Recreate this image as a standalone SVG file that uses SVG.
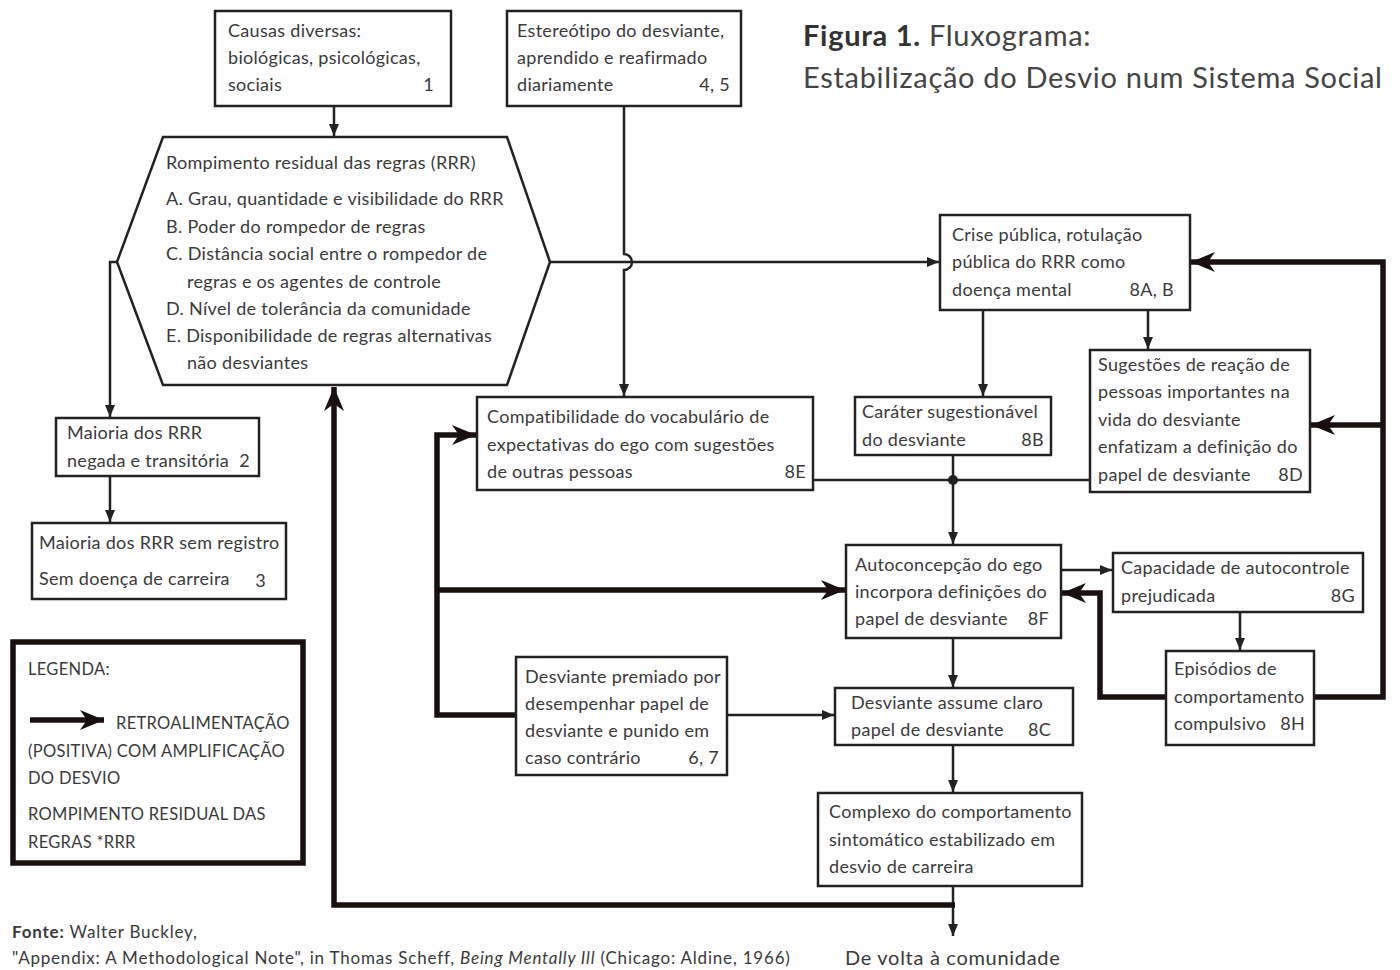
<svg xmlns="http://www.w3.org/2000/svg" width="1400" height="970" viewBox="0 0 1400 970">
<style>
text{font-family:Lato,"Noto Sans","Liberation Sans",sans-serif;font-size:18px;letter-spacing:0.3px;fill:#3a3a3a}
.box{fill:#fff;stroke:#222;stroke-width:2.5}
.thin{fill:none;stroke:#222;stroke-width:2.5}
.thick{fill:none;stroke:#1a1010;stroke-width:5.5}
.num{text-anchor:end}
.leg{font-size:16.5px;letter-spacing:0.3px}
.title{font-size:29px;letter-spacing:0.7px;fill:#444}
.foot{font-size:17px;letter-spacing:0.8px}
.out{font-size:20px;letter-spacing:0.7px}
</style>
<defs>
<marker id="a" markerUnits="userSpaceOnUse" markerWidth="14" markerHeight="12" refX="12" refY="5" orient="auto">
<path d="M0,0 L12,5 L0,10 z" fill="#222"/>
</marker>
<marker id="A" markerUnits="userSpaceOnUse" markerWidth="26" markerHeight="22" refX="24" refY="10" orient="auto">
<path d="M0,0 L24,10 L0,20 L7,10 z" fill="#1a1010"/>
</marker>
</defs>
<rect width="1400" height="970" fill="#fff"/>

<g id="connectors">
<path class="thin" d="M334,106 V136" marker-end="url(#a)"/>
<path class="thin" d="M117,262 H110 V417" marker-end="url(#a)"/>
<path class="thin" d="M110,476 V522" marker-end="url(#a)"/>
<path class="thin" d="M550,262 H939" marker-end="url(#a)"/>
<path class="thin" d="M624,106 V254 a8,8 0 0 1 0,16 V396" marker-end="url(#a)"/>
<path class="thin" d="M983,310 V396" marker-end="url(#a)"/>
<path class="thin" d="M1148,310 V349" marker-end="url(#a)"/>
<path class="thin" d="M813,480 H1090"/>
<circle cx="953" cy="480" r="5" fill="#222"/>
<path class="thin" d="M953,455 V544" marker-end="url(#a)"/>
<path class="thin" d="M1061,570 H1112" marker-end="url(#a)"/>
<path class="thin" d="M1240,612 V650" marker-end="url(#a)"/>
<path class="thin" d="M953,638 V687" marker-end="url(#a)"/>
<path class="thin" d="M727,715 H834" marker-end="url(#a)"/>
<path class="thin" d="M953,745 V792" marker-end="url(#a)"/>
<path class="thin" d="M953,886 V936" marker-end="url(#a)"/>
<path class="thick" d="M955,905 H334 V387" marker-end="url(#A)"/>
<path class="thick" d="M516,715 H437 V435 H476" marker-end="url(#A)"/>
<path class="thick" d="M437,590 H845" marker-end="url(#A)"/>
<path class="thick" d="M1166,697 H1100 V593 H1062" marker-end="url(#A)"/>
<path class="thick" d="M1314,697 H1383 V262 H1191" marker-end="url(#A)"/>
<path class="thick" d="M1383,425 H1311" marker-end="url(#A)"/>
</g>

<g id="n1">
<rect class="box" x="215" y="11" width="236" height="95"/>
<text x="228" y="37">Causas diversas:</text>
<text x="228" y="64">biológicas, psicológicas,</text>
<text x="228" y="91">sociais</text>
<text class="num" x="434" y="91">1</text>
</g>

<g id="n2">
<rect class="box" x="507" y="11" width="234" height="95"/>
<text x="517" y="37">Estereótipo do desviante,</text>
<text x="517" y="64">aprendido e reafirmado</text>
<text x="517" y="91">diariamente</text>
<text class="num" x="730" y="91">4, 5</text>
</g>

<g id="title">
<text class="title" x="803" y="46"><tspan font-weight="bold" fill="#333">Figura 1.</tspan> Fluxograma:</text>
<text class="title" x="803" y="88">Estabilização do Desvio num Sistema Social</text>
</g>

<g id="hex">
<polygon class="box" points="163,137 507,137 550,262 507,385 163,385 117,262"/>
<text x="166" y="169">Rompimento residual das regras (RRR)</text>
<text x="166" y="205">A. Grau, quantidade e visibilidade do RRR</text>
<text x="166" y="233">B. Poder do rompedor de regras</text>
<text x="166" y="260">C. Distância social entre o rompedor de</text>
<text x="187" y="288">regras e os agentes de controle</text>
<text x="166" y="315">D. Nível de tolerância da comunidade</text>
<text x="166" y="342">E. Disponibilidade de regras alternativas</text>
<text x="187" y="369">não desviantes</text>
</g>

<g id="n2a">
<rect class="box" x="56" y="418" width="203" height="58"/>
<text x="67" y="439">Maioria dos RRR</text>
<text x="67" y="467">negada e transitória</text>
<text class="num" x="250" y="467">2</text>
</g>

<g id="n3">
<rect class="box" x="32" y="523" width="254" height="76"/>
<text x="39" y="549">Maioria dos RRR sem registro</text>
<text x="39" y="585">Sem doença de carreira</text>
<text class="num" x="266" y="587">3</text>
</g>

<g id="legend">
<rect x="13" y="642" width="290" height="221" fill="#fff" stroke="#1a1010" stroke-width="5.5"/>
<text class="leg" x="28" y="675">LEGENDA:</text>
<path class="thick" d="M30,720 H104" marker-end="url(#A)"/>
<text class="leg" x="116" y="729">RETROALIMENTAÇÃO</text>
<text class="leg" x="28" y="757">(POSITIVA) COM AMPLIFICAÇÃO</text>
<text class="leg" x="28" y="784">DO DESVIO</text>
<text class="leg" x="28" y="820">ROMPIMENTO RESIDUAL DAS</text>
<text class="leg" x="28" y="848">REGRAS *RRR</text>
</g>

<g id="n8E">
<rect class="box" x="477" y="397" width="336" height="93"/>
<text x="487" y="423">Compatibilidade do vocabulário de</text>
<text x="487" y="451">expectativas do ego com sugestões</text>
<text x="487" y="478">de outras pessoas</text>
<text class="num" x="806" y="478">8E</text>
</g>

<g id="n8A">
<rect class="box" x="940" y="215" width="250" height="95"/>
<text x="952" y="241">Crise pública, rotulação</text>
<text x="952" y="268">pública do RRR como</text>
<text x="952" y="296">doença mental</text>
<text class="num" x="1174" y="296">8A, B</text>
</g>

<g id="n8B">
<rect class="box" x="855" y="397" width="196" height="58"/>
<text x="862" y="418">Caráter sugestionável</text>
<text x="862" y="446">do desviante</text>
<text class="num" x="1044" y="446">8B</text>
</g>

<g id="n8D">
<rect class="box" x="1090" y="350" width="220" height="142"/>
<text x="1098" y="371">Sugestões de reação de</text>
<text x="1098" y="398">pessoas importantes na</text>
<text x="1098" y="426">vida do desviante</text>
<text x="1098" y="453">enfatizam a definição do</text>
<text x="1098" y="481">papel de desviante</text>
<text class="num" x="1303" y="481">8D</text>
</g>

<g id="n8F">
<rect class="box" x="846" y="545" width="215" height="93"/>
<text x="855" y="571">Autoconcepção do ego</text>
<text x="855" y="598">incorpora definições do</text>
<text x="855" y="625">papel de desviante</text>
<text class="num" x="1049" y="625">8F</text>
</g>

<g id="n8G">
<rect class="box" x="1113" y="553" width="250" height="59"/>
<text x="1121" y="574">Capacidade de autocontrole</text>
<text x="1121" y="602">prejudicada</text>
<text class="num" x="1355" y="602">8G</text>
</g>

<g id="n8H">
<rect class="box" x="1166" y="651" width="148" height="94"/>
<text x="1174" y="675">Episódios de</text>
<text x="1174" y="703">comportamento</text>
<text x="1174" y="730">compulsivo</text>
<text class="num" x="1305" y="730">8H</text>
</g>

<g id="n67">
<rect class="box" x="516" y="657" width="211" height="118"/>
<text x="525" y="683">Desviante premiado por</text>
<text x="525" y="710">desempenhar papel de</text>
<text x="525" y="737">desviante e punido em</text>
<text x="525" y="764">caso contrário</text>
<text class="num" x="719" y="764">6, 7</text>
</g>

<g id="n8C">
<rect class="box" x="835" y="688" width="238" height="57"/>
<text x="851" y="709">Desviante assume claro</text>
<text x="851" y="736">papel de desviante</text>
<text class="num" x="1051" y="736">8C</text>
</g>

<g id="nComplexo">
<rect class="box" x="818" y="793" width="264" height="93"/>
<text x="829" y="818">Complexo do comportamento</text>
<text x="829" y="846">sintomático estabilizado em</text>
<text x="829" y="873">desvio de carreira</text>
</g>

<g id="out">
<text class="out" x="845" y="965">De volta à comunidade</text>
</g>

<g id="footer">
<text class="foot" x="12" y="938"><tspan font-weight="bold">Fonte:</tspan> Walter Buckley,</text>
<text class="foot" x="12" y="964">"Appendix: A Methodological Note", in Thomas Scheff, <tspan font-style="italic">Being Mentally Ill</tspan> (Chicago: Aldine, 1966)</text>
</g>
</svg>
